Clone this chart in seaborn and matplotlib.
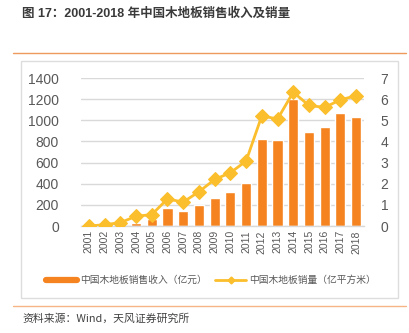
import matplotlib
matplotlib.use("Agg")
import matplotlib.pyplot as plt
import seaborn as sns
import numpy as np
import pandas as pd
from matplotlib.lines import Line2D
from matplotlib.patches import Rectangle

sns.set_theme(style="white")
plt.rcParams['font.family'] = ['Liberation Sans', 'Noto Sans CJK SC', 'DejaVu Sans']

years = ["2001", "2002", "2003", "2004", "2005", "2006", "2007", "2008", "2009",
         "2010", "2011", "2012", "2013", "2014", "2015", "2016", "2017", "2018"]
revenue = [0, 0, 0, 32, 64, 175, 146, 194, 266, 317, 403, 820, 814, 1206, 893, 934, 1067, 1035]
volume = [0.0, 0.06, 0.16, 0.46, 0.54, 1.28, 1.13, 1.62, 2.20, 2.52, 3.07, 5.21, 5.06, 6.33, 5.70, 5.61, 5.97, 6.16]
left_ticks = [0, 200, 400, 600, 800, 1000, 1200, 1400]
right_ticks = [0, 1, 2, 3, 4, 5, 6, 7]
bar_label = "中国木地板销售收入（亿元）"
line_label = "中国木地板销量（亿平方米）"
title = "图 17：2001-2018 年中国木地板销售收入及销量"
source = "资料来源：Wind，天风证券研究所"

BAR = "#F5831F"
LINE = "#FBBE2C"
GREY = "#595959"
GRID = "#D9D9D9"

W, H = 409, 333
fig = plt.figure(figsize=(W / 100, H / 100), dpi=100)
ax = fig.add_axes([81 / W, 1 - 226 / H, (364 - 81) / W, (226 - 78) / H])

df = pd.DataFrame({"year": years, "revenue": revenue, "volume": volume})
sns.barplot(data=df, x="year", y="revenue", color=BAR, saturation=1, width=0.64, ax=ax, zorder=2)
ax.set_xlim(-0.5, len(years) - 0.5)
ax.set_ylim(0, 1400)
ax.set_yticks(left_ticks)
ax.set_yticklabels([str(t) for t in left_ticks], fontsize=10, color=GREY)
ax.set_xticks(range(len(years)))
ax.set_xticklabels(years, rotation=90, fontsize=7.5, color=GREY)
ax.set_xlabel("")
ax.set_ylabel("")
ax.yaxis.grid(True, color=GRID, linewidth=1)
ax.set_axisbelow(True)
for s in ["top", "right", "left"]:
    ax.spines[s].set_visible(False)
ax.spines["bottom"].set_color(GRID)
ax.spines["bottom"].set_linewidth(1)
ax.tick_params(axis="y", length=0, pad=16)
ax.tick_params(axis="x", length=0, pad=3)
ax.set_xticks(np.arange(-0.5, len(years), 1), minor=True)
ax.tick_params(axis="x", which="minor", length=4, color=GRID, width=1)

ax2 = ax.twinx()
sns.lineplot(x=np.arange(len(years)), y=volume, ax=ax2, color=LINE, linewidth=2,
             marker="D", markersize=7, markeredgecolor=LINE, zorder=3)
ax2.set_ylim(0, 7)
ax2.set_yticks(right_ticks)
ax2.set_yticklabels([str(t) for t in right_ticks], fontsize=10, color=GREY)
ax2.tick_params(axis="y", length=0, pad=12)
for s in ["top", "right", "left", "bottom"]:
    ax2.spines[s].set_visible(False)
ax2.set_ylabel("")

handles = [Line2D([0], [0], color=BAR, linewidth=4.5),
           Line2D([0], [0], color=LINE, linewidth=2, marker="D", markersize=3.5)]
fig.legend(handles, [bar_label, line_label], loc="center", bbox_to_anchor=(211 / W, 1 - 280 / H),
           ncol=2, frameon=False, fontsize=7, handlelength=3.2, handletextpad=0.3, columnspacing=0.9,
           labelcolor=GREY, prop={"family": ["Noto Sans CJK SC"], "size": 7})

fig.patches.append(Rectangle((21 / W, 1 - 298 / H), (398 - 21) / W, (298 - 61) / H,
                             transform=fig.transFigure, fill=False, edgecolor="#DDDDDD", linewidth=1))
fig.add_artist(Line2D([13 / W, 406 / W], [1 - 53 / H, 1 - 53 / H], transform=fig.transFigure,
                      color="#EE9A5E", linewidth=1))
fig.add_artist(Line2D([13 / W, 406 / W], [1 - 305.5 / H, 1 - 305.5 / H], transform=fig.transFigure,
                      color="#F7B585", linewidth=1))

fig.text(22 / W, 1 - 14 / H, title, fontsize=9, fontweight="bold", color="#3A3A3A", va="center",
         ha="left", family=["Liberation Sans", "Noto Sans CJK SC"])
fig.text(22 / W, 1 - 319 / H, source, fontsize=7.8, color="#404040", va="center", ha="left",
         family=["Noto Sans CJK SC", "Liberation Sans"])

fig.savefig("out.png", dpi=100)
